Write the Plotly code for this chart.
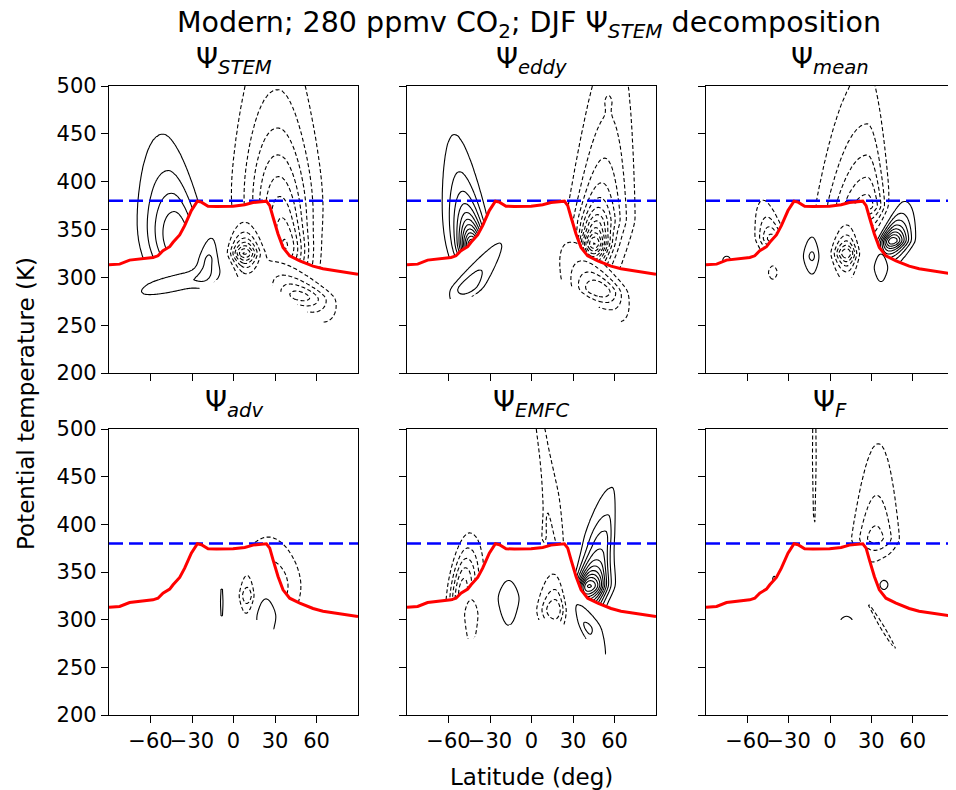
import math
import numpy as np
import plotly.graph_objects as go

# ---------------- data ----------------
LAT_RANGE = [-90, 90]
THETA_RANGE = [200, 500]
LAT_TICKS = [-60, -30, 0, 30, 60]
LAT_TICK_TEXT = ["\u221260", "\u221230", "0", "30", "60"]
THETA_TICKS = [200, 250, 300, 350, 400, 450, 500]

# tropopause (red line)
TROP_LAT = [-90, -82.3, -75.1, -67.8, -58.2, -54.6, -51, -46.1, -43.7, -38.9, -35.3, -30.5,
            -26.1, -23.2, -18.4, -12.4, -0.3, 8.1, 14.1, 23.8, 26.2, 28.6, 32.2, 35.8, 40.6,
            47.9, 57.5, 64.7, 72, 81.6, 90]
TROP_THETA = [313.1, 313.8, 318, 319.4, 320.8, 322.5, 327.8, 332, 336.6, 344.3, 354, 369.8,
              379.6, 378.6, 374.4, 374, 374.4, 375.8, 378.2, 379.6, 375, 362.8, 345.3, 331.3,
              322.5, 317.3, 311.7, 308.9, 307.5, 305.4, 303.3]
BLUE_THETA = 380

# lowest isentrope with data (surface)
SURF_LAT = [-90, -60, -45, -30, -16, -8, 0, 10, 20, 30, 40, 50, 60, 70, 90]
SURF_THETA = [270, 275, 279, 284, 293, 299, 300, 300, 297, 289, 278, 266, 255, 250, 245]

PANEL_TITLES = ["\u03a8<sub><i>STEM</i></sub>", "\u03a8<sub><i>eddy</i></sub>",
                "\u03a8<sub><i>mean</i></sub>", "\u03a8<sub><i>adv</i></sub>",
                "\u03a8<sub><i>EMFC</i></sub>", "\u03a8<sub><i>F</i></sub>"]

# streamfunction cells, in contour-interval units:
# (amplitude, lat0, theta0, south width, north width, upward scale, downward scale, core, tilt)
STEM_UPPER = [(5.0, -40, 340, 16, 12, 52, 40, 30, -0.10),
              (-4.5, 35, 380, 21, 17, 100, 60, 40, -0.02),
              (-5.0, 38, 330, 10, 10, 35, 30, 15, -0.10)]
STEM_LOWER = [(2.0, -40, 295, 16, 18, 12, 13, 5, 1.6),
              (2.0, -18, 320, 5.5, 5, 25, 20, 5, 0.1),
              (-7.0, 8, 325, 6.5, 6.5, 14, 14, 3, 0.0),
              (-4.5, 48, 280, 14, 14, 22, 15, 5, -0.55)]
EDDY_UPPER = [(3.3, -48, 350, 10, 10, 60, 40, 30, -0.08),
              (10.0, -42, 332, 6, 6, 20, 20, 5, -0.10),
              (-4.75, 50, 360, 14, 14, 120, 50, 5, 0.05),
              (-9.0, 45, 335, 7, 7, 20, 20, 5, 0.05),
              (-0.6, 55.5, 484, 2, 2, 6, 6, 3, 0.0)]
EDDY_LOWER = [(2.8, -46, 290, 8, 8, 40, 12, 5, 0.5),
              (-5.0, 49, 287, 14, 11, 28, 18, 5, -0.4)]
MEAN_UPPER = [(-5.6, 27, 375, 20, 9, 80, 20, 3, 0.0),
              (-4.5, -42, 340, 7, 6, 25, 20, 3, -0.16),
              (9.0, 45, 338, 6, 8, 18, 14, 3, 0.2),
              (1.3, -75, 318, 4, 4, 8, 6, 3, 0.0)]
MEAN_LOWER = [(-1.5, -41.5, 305, 3.5, 3.5, 11, 11, 3, 0.0),
              (2.2, -13, 322, 5, 4, 20, 18, 5, 0.0),
              (-6.0, 12, 325, 6, 5, 15, 15, 3, 0.0),
              (1.8, 37, 310, 4.5, 4.5, 20, 20, 3, 0.0)]
ADV_UPPER = [(-3.0, 25, 335, 16, 16, 28, 28, 28, 0.0)]
ADV_LOWER = [(1.2, -8.5, 318, 1.6, 1.6, 70, 70, 5, 0.0),
             (-3.0, 10, 325, 4, 4, 18, 18, 3, 0.0),
             (1.8, 23, 303, 7, 7, 25, 40, 5, 0.0)]
EMFC_UPPER = [(-5.5, -50, 330, 6, 8, 15, 15, 60, 0.085),
              (-1.6, 14, 430, 4, 6, 200, 150, 5, -0.12),
              (-1.5, 9, 388, 1.6, 1.6, 40, 10, 3, 0.0),
              (10.0, 41, 335, 6, 9, 20, 20, 5, 0.15),
              (2.5, 53, 385, 10, 4, 45, 80, 10, 0.1)]
EMFC_LOWER = [(-1.6, -43.5, 305, 5, 5, 25, 60, 5, 0.0),
              (1.8, -16.5, 322, 7, 7, 25, 40, 5, 0.0),
              (-4.0, 17, 310, 8, 5, 25, 20, 5, 0.0),
              (2.2, 40, 292, 4, 8, 25, 40, 5, -0.3)]
F_UPPER = [(-1.5, -11.4, 470, 1.5, 1.5, 300, 170, 5, 0.0),
           (-3.45, 33, 385, 11, 11, 78, 18, 3, 0.02),
           (1.6, 39, 337, 4, 4, 10, 10, 3, 0.0),
           (1.2, -40.5, 343, 2, 2, 5, 5, 3, 0.0)]
F_LOWER = [(1.5, 12, 298, 5, 5, 8, 8, 3, 0.0),
           (-1.3, 38, 292, 2.2, 2.2, 80, 80, 5, -0.41)]

PANELS = [(STEM_UPPER, STEM_LOWER), (EDDY_UPPER, EDDY_LOWER), (MEAN_UPPER, MEAN_LOWER),
          (ADV_UPPER, ADV_LOWER), (EMFC_UPPER, EMFC_LOWER), (F_UPPER, F_LOWER)]

# ---------------- grid & fields ----------------
lat = np.arange(-90, 90.001, 1.0)
th = np.arange(240, 500.001, 2.5)
LAT, TH = np.meshgrid(lat, th)
trop = np.interp(lat, TROP_LAT, TROP_THETA)[None, :]
surf = np.interp(lat, SURF_LAT, SURF_THETA)[None, :]
UPPER_OK = TH >= trop - 1.5
LOWER_OK = (TH <= trop + 1.5) & (TH >= surf)


def cell_field(cells):
    z = np.zeros_like(LAT)
    for amp, lat0, th0, ss, sn, hup, hdn, core, tilt in cells:
        centre = lat0 + tilt * (TH - th0)
        dl = LAT - centre
        w = np.where(dl < 0, ss, sn)
        dt = TH - th0
        h = np.where(dt > 0, hup, hdn)
        z += amp * np.exp(-0.5 * (dl / w) ** 2) * np.exp(-(np.sqrt(core ** 2 + dt ** 2) - core) / h)
    return z


def masked(field, ok):
    z = np.where(ok, np.round(field, 2), np.nan)
    return [[None if np.isnan(v) else float(v) for v in row] for row in z]


FONT = "DejaVu Sans"
W, H = 956, 790
OFF = 8  # the page body margin shifts the figure by this many pixels


def px(x):
    return (x - OFF) / W


def py(y):
    return 1 - (y - OFF) / H


XD = [(px(109), px(358)), (px(407), px(656)), (px(706), px(954))]
YD = [(py(373), py(86)), (py(715), py(429))]
COL_CENTRES = [233.5, 531.5, 830]

fig = go.Figure()
layout = {}
annotations = []
for k, (up, lo) in enumerate(PANELS):
    r, c = divmod(k, 3)
    xa = "x" if k == 0 else f"x{k + 1}"
    ya = "y" if k == 0 else f"y{k + 1}"
    for cells, ok in ((up, UPPER_OK), (lo, LOWER_OK)):
        field = cell_field(cells)
        vals = field[ok]
        zmax, zmin = float(vals.max()), float(vals.min())
        z = masked(field, ok)
        if zmax >= 1:
            fig.add_trace(go.Contour(
                x=lat, y=th, z=z, xaxis=xa, yaxis=ya, showscale=False, autocontour=False,
                contours=dict(start=1, end=max(1, math.floor(zmax)), size=1, coloring="none"),
                line=dict(color="black", width=1.1), connectgaps=False, hoverinfo="skip"))
        if zmin <= -1:
            fig.add_trace(go.Contour(
                x=lat, y=th, z=z, xaxis=xa, yaxis=ya, showscale=False, autocontour=False,
                contours=dict(start=min(-1, math.ceil(zmin)), end=-1, size=1, coloring="none"),
                line=dict(color="black", width=1.1, dash="4px,2.5px"), connectgaps=False,
                hoverinfo="skip"))
    fig.add_trace(go.Scatter(x=LAT_RANGE, y=[BLUE_THETA, BLUE_THETA], mode="lines",
                             line=dict(color="#0000ff", width=2.5, dash="14px,6px"),
                             xaxis=xa, yaxis=ya, hoverinfo="skip", showlegend=False))
    fig.add_trace(go.Scatter(x=TROP_LAT, y=TROP_THETA, mode="lines",
                             line=dict(color="#ff0000", width=3),
                             xaxis=xa, yaxis=ya, hoverinfo="skip", showlegend=False))
    axcommon = dict(showline=True, linecolor="black", linewidth=1.3, mirror=True,
                    ticks="outside", ticklen=7, tickwidth=1.3, tickcolor="black",
                    showgrid=False, zeroline=False, automargin=False, tickangle=0,
                    tickfont=dict(family=FONT, size=21, color="black"))
    layout["xaxis" if k == 0 else f"xaxis{k + 1}"] = dict(
        domain=XD[c], anchor=ya, range=LAT_RANGE, tickvals=LAT_TICKS, ticktext=LAT_TICK_TEXT,
        showticklabels=(r == 1), **axcommon)
    layout["yaxis" if k == 0 else f"yaxis{k + 1}"] = dict(
        domain=YD[r], anchor=xa, range=THETA_RANGE, tickvals=THETA_TICKS,
        showticklabels=(c == 0), **axcommon)
    annotations.append(dict(text=PANEL_TITLES[k], x=px(COL_CENTRES[c]), y=YD[r][1] + 5 / H,
                            xref="paper", yref="paper", xanchor="center", yanchor="bottom",
                            showarrow=False, font=dict(family=FONT, size=28, color="black")))

annotations.append(dict(text="Modern; 280 ppmv CO<sub>2</sub>; DJF \u03a8<sub><i>STEM</i></sub> decomposition",
                        x=px(529), y=py(4), xref="paper", yref="paper", xanchor="center", yanchor="top",
                        showarrow=False, font=dict(family=FONT, size=28.5, color="black")))
annotations.append(dict(text="Latitude (deg)", x=px(531.5), y=py(777), xref="paper", yref="paper",
                        xanchor="center", yanchor="middle", showarrow=False,
                        font=dict(family=FONT, size=23, color="black")))
annotations.append(dict(text="Potential temperature (K)", x=px(26), y=py(404), xref="paper", yref="paper",
                        xanchor="center", yanchor="middle", textangle=-90, showarrow=False,
                        font=dict(family=FONT, size=23, color="black")))

fig.update_layout(width=W, height=H, margin=dict(l=0, r=0, t=0, b=0, autoexpand=False),
                  paper_bgcolor="white", plot_bgcolor="white", showlegend=False,
                  font=dict(family=FONT, color="black"),
                  annotations=annotations, **layout)
fig.write_html("out.html")
